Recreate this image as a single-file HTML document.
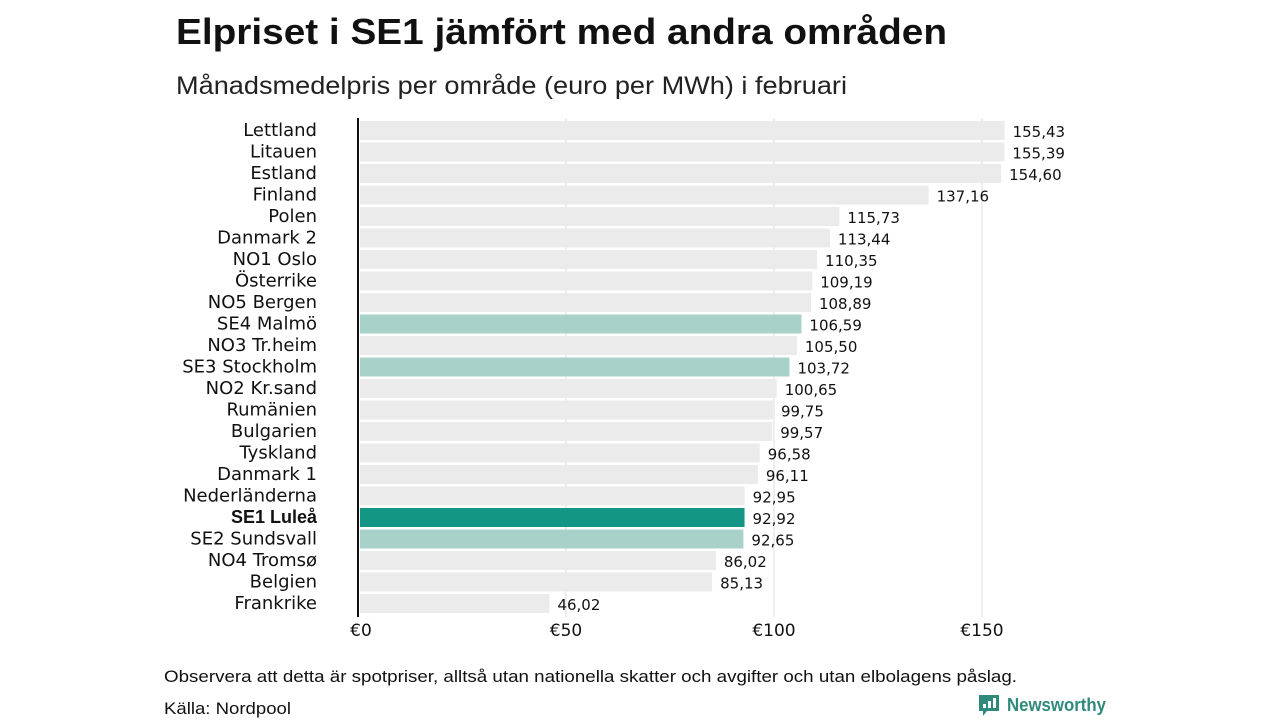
<!DOCTYPE html>
<html><head><meta charset="utf-8"><style>
body{margin:0;background:#fff;width:1280px;height:720px;overflow:hidden;font-family:"Liberation Sans",sans-serif}
.d{font-family:"DejaVu Sans",sans-serif}
</style></head><body>
<svg id="c" width="1280" height="720">
<text x="176" y="44" font-size="36" font-weight="bold" fill="#111" textLength="771" lengthAdjust="spacingAndGlyphs">Elpriset i SE1 jämfört med andra områden</text>
<text x="176" y="94" font-size="25" fill="#222" textLength="671" lengthAdjust="spacingAndGlyphs">Månadsmedelpris per område (euro per MWh) i februari</text>
<g id="grid"></g><g id="bars"></g>
<line x1="358" y1="118" x2="358" y2="617" stroke="#111" stroke-width="2"/>
<text x="164" y="682" font-size="16.5" fill="#111" textLength="853" lengthAdjust="spacingAndGlyphs">Observera att detta är spotpriser, alltså utan nationella skatter och avgifter och utan elbolagens påslag.</text>
<text x="164" y="714" font-size="16.5" fill="#111" textLength="127" lengthAdjust="spacingAndGlyphs">Källa: Nordpool</text>
<g>
<path d="M979 695 h20 v16 h-12 l-4 5 v-5 h-4 z" fill="#2f8a7c"/>
<rect x="983" y="704" width="3" height="4" fill="#fff"/><rect x="988" y="701" width="3" height="7" fill="#fff"/><rect x="993" y="698" width="3" height="10" fill="#fff"/>
<text x="1007" y="711" font-size="18" font-weight="bold" fill="#2f8a7c" textLength="99" lengthAdjust="spacingAndGlyphs">Newsworthy</text>
</g>
</svg>
<script>
const categories=["Lettland","Litauen","Estland","Finland","Polen","Danmark 2","NO1 Oslo","Österrike","NO5 Bergen","SE4 Malmö","NO3 Tr.heim","SE3 Stockholm","NO2 Kr.sand","Rumänien","Bulgarien","Tyskland","Danmark 1","Nederländerna","SE1 Luleå","SE2 Sundsvall","NO4 Tromsø","Belgien","Frankrike"];
const values=[155.43,155.39,154.60,137.16,115.73,113.44,110.35,109.19,108.89,106.59,105.50,103.72,100.65,99.75,99.57,96.58,96.11,92.95,92.92,92.65,86.02,85.13,46.02];
const ticks=[0,50,100,150];
const tickLabels=["€0","€50","€100","€150"];
const ns="http://www.w3.org/2000/svg";
const x=v=>358+v*4.16, y=i=>121+i*21.5;
function mk(t,a,p){const e=document.createElementNS(ns,t);for(const k in a)e.setAttribute(k,a[k]);p.appendChild(e);return e;}
const g=document.getElementById('grid'),b=document.getElementById('bars');
ticks.forEach((t,i)=>{
 if(t>0){const l=mk('line',{x1:x(t),x2:x(t),y1:118,y2:617,stroke:'#ddd','stroke-width':1},g);
 
 }
 const tx=mk('text',{x:x(t)+(t?0:3),y:636,'font-size':17,'text-anchor':'middle',fill:'#111',class:'d'},g);
 tx.textContent=tickLabels[i];
 
 
});
categories.forEach((c,i)=>{
 const se1=c==="SE1 Luleå", se=c.startsWith("SE");
 const r=mk('rect',{x:360,y:y(i),width:x(values[i])-360,height:19,fill:se1?'#139683':se?'#a8d1ca':'#ebebeb'},b);
 
 
 const l=mk('text',{x:317,y:y(i)+15,'font-size':18,'text-anchor':'end',fill:'#111','font-weight':se1?'bold':'normal',class:se1?'':'d'},b);
 l.textContent=c;
 
 
 const v=mk('text',{x:x(values[i])+8,y:y(i)+16,'font-size':15,fill:'#111',class:'d'},b);
 v.textContent=values[i].toFixed(2).replace('.',',');
 
 
});
</script>
</body></html>
